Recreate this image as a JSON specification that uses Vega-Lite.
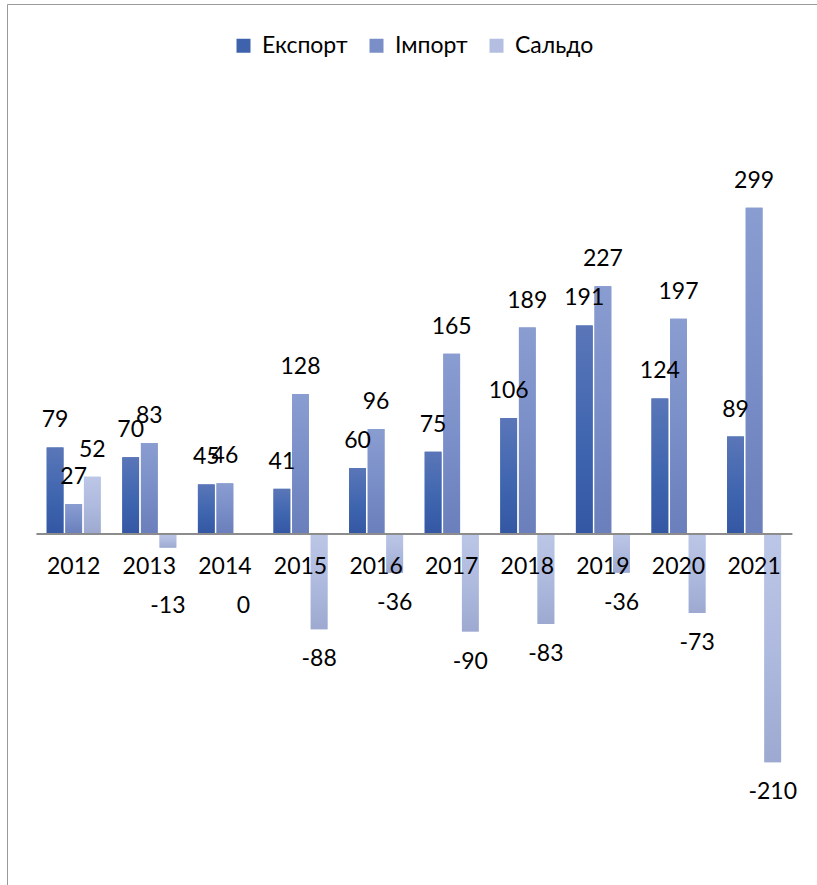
{
  "$schema": "https://vega.github.io/schema/vega-lite/v6.json",
  "autosize": {"type": "none"},
  "padding": {"left": 7, "top": 4, "right": 0, "bottom": 0},
  "width": 830,
  "height": 889,
  "background": "white",
  "config": {
    "view": {"stroke": "#9a9a9a", "strokeWidth": 1},
    "font": "Lato",
    "text": {"font": "Lato", "fontSize": 23, "color": "#000000"}
  },
  "data": {
    "values": [
      {"year": "2012", "series": "Експорт", "value": 79},
      {"year": "2012", "series": "Імпорт", "value": 27},
      {"year": "2012", "series": "Сальдо", "value": 52},
      {"year": "2013", "series": "Експорт", "value": 70},
      {"year": "2013", "series": "Імпорт", "value": 83},
      {"year": "2013", "series": "Сальдо", "value": -13},
      {"year": "2014", "series": "Експорт", "value": 45},
      {"year": "2014", "series": "Імпорт", "value": 46},
      {"year": "2014", "series": "Сальдо", "value": 0},
      {"year": "2015", "series": "Експорт", "value": 41},
      {"year": "2015", "series": "Імпорт", "value": 128},
      {"year": "2015", "series": "Сальдо", "value": -88},
      {"year": "2016", "series": "Експорт", "value": 60},
      {"year": "2016", "series": "Імпорт", "value": 96},
      {"year": "2016", "series": "Сальдо", "value": -36},
      {"year": "2017", "series": "Експорт", "value": 75},
      {"year": "2017", "series": "Імпорт", "value": 165},
      {"year": "2017", "series": "Сальдо", "value": -90},
      {"year": "2018", "series": "Експорт", "value": 106},
      {"year": "2018", "series": "Імпорт", "value": 189},
      {"year": "2018", "series": "Сальдо", "value": -83},
      {"year": "2019", "series": "Експорт", "value": 191},
      {"year": "2019", "series": "Імпорт", "value": 227},
      {"year": "2019", "series": "Сальдо", "value": -36},
      {"year": "2020", "series": "Експорт", "value": 124},
      {"year": "2020", "series": "Імпорт", "value": 197},
      {"year": "2020", "series": "Сальдо", "value": -73},
      {"year": "2021", "series": "Експорт", "value": 89},
      {"year": "2021", "series": "Імпорт", "value": 299},
      {"year": "2021", "series": "Сальдо", "value": -210}
    ]
  },
  "encoding": {
    "x": {
      "field": "year",
      "type": "nominal",
      "scale": {"range": [28.9, 784.9], "paddingInner": 0.286, "paddingOuter": 0.143},
      "axis": {
        "title": null,
        "zindex": 1,
        "labelAngle": 0,
        "labelFont": "Lato",
        "labelFontSize": 23,
        "labelColor": "#000000",
        "labelPadding": 22,
        "ticks": false,
        "grid": false,
        "domain": true,
        "domainColor": "#8c8c8c",
        "domainWidth": 2,
        "offset": -359.5
      }
    },
    "xOffset": {
      "field": "series",
      "type": "nominal",
      "sort": ["Експорт", "Імпорт", "Сальдо"],
      "scale": {"paddingInner": 0.1, "paddingOuter": 0}
    },
    "y": {
      "field": "value",
      "type": "quantitative",
      "scale": {"domain": [-330, 486], "nice": false, "zero": false},
      "axis": null
    }
  },
  "layer": [
    {
      "mark": {"type": "bar"},
      "encoding": {
        "y2": {"datum": 0},
        "color": {
          "field": "series",
          "type": "nominal",
          "sort": ["Експорт", "Імпорт", "Сальдо"],
          "scale": {"domain": ["Експорт", "Імпорт", "Сальдо"], "range": ["#3f62ad", "#7a8fc8", "#b3bee0"]},
          "legend": {
            "title": null,
            "orient": "none",
            "direction": "horizontal",
            "legendX": 225,
            "legendY": 30,
            "symbolType": "square",
            "symbolSize": 196,
            "symbolStrokeWidth": 0,
            "labelFont": "Lato",
            "labelFontSize": 23,
            "labelColor": "#000000",
            "labelOffset": 7,
            "columnPadding": 17
          }
        }
      }
    },
    {
      "transform": [{"filter": "datum.series === 'Експорт'"}],
      "mark": {
        "type": "bar",
        "color": {
          "gradient": "linear", "x1": 0, "y1": 0, "x2": 0, "y2": 1,
          "stops": [
            {"offset": 0, "color": "#5a76b8"},
            {"offset": 0.55, "color": "#4066b0"},
            {"offset": 1, "color": "#3457a3"}
          ]
        }
      },
      "encoding": {"y2": {"datum": 0}}
    },
    {
      "transform": [{"filter": "datum.series === 'Імпорт'"}],
      "mark": {
        "type": "bar",
        "color": {
          "gradient": "linear", "x1": 0, "y1": 0, "x2": 0, "y2": 1,
          "stops": [
            {"offset": 0, "color": "#8a9dd1"},
            {"offset": 0.5, "color": "#7a8fc8"},
            {"offset": 1, "color": "#6a7fbb"}
          ]
        }
      },
      "encoding": {"y2": {"datum": 0}}
    },
    {
      "transform": [{"filter": "datum.series === 'Сальдо'"}],
      "mark": {
        "type": "bar",
        "color": {
          "gradient": "linear", "x1": 0, "y1": 0, "x2": 0, "y2": 1,
          "stops": [
            {"offset": 0, "color": "#bcc6e6"},
            {"offset": 0.5, "color": "#afbadf"},
            {"offset": 1, "color": "#9da9d0"}
          ]
        }
      },
      "encoding": {"y2": {"datum": 0}}
    },
    {
      "transform": [{"filter": "datum.value > 0"}],
      "mark": {"type": "text", "baseline": "middle", "align": "center", "dy": -27},
      "encoding": {"text": {"field": "value", "type": "nominal"}}
    },
    {
      "transform": [{"filter": "datum.value <= -20"}],
      "mark": {"type": "text", "baseline": "middle", "align": "center", "dy": 30},
      "encoding": {"text": {"field": "value", "type": "nominal"}}
    },
    {
      "transform": [{"filter": "datum.value > -20 && datum.value <= 0"}],
      "mark": {"type": "text", "baseline": "middle", "align": "center"},
      "encoding": {
        "y": {"datum": -67},
        "text": {"field": "value", "type": "nominal"}
      }
    }
  ]
}
